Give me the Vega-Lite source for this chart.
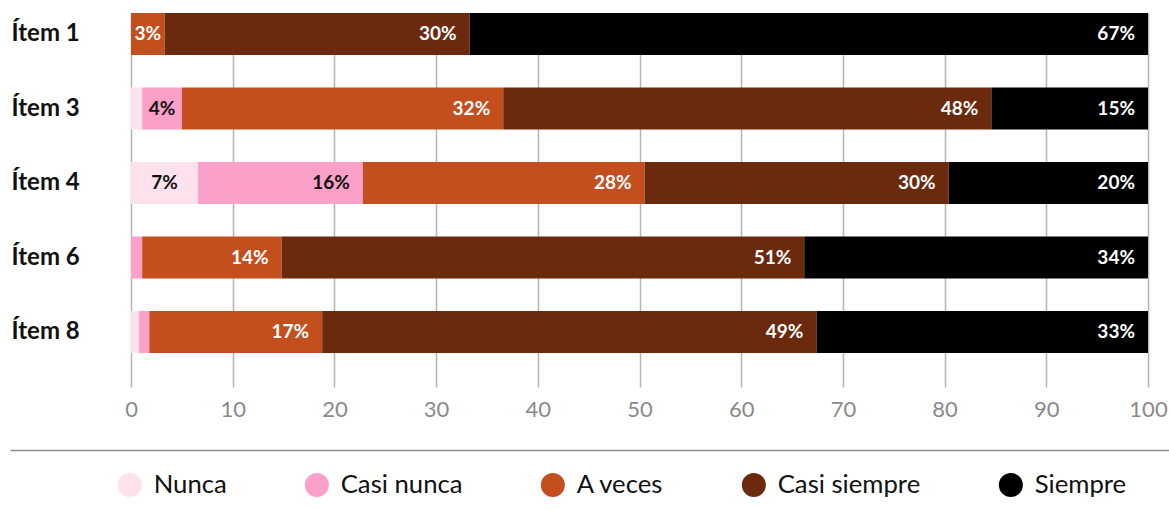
{
  "$schema": "https://vega.github.io/schema/vega-lite/v6.json",
  "autosize": {"type": "none"},
  "width": 1159,
  "height": 374,
  "padding": {"left": 10, "top": 13, "right": 0, "bottom": 123},
  "background": "white",
  "config": {
    "font": "Lato",
    "view": {"stroke": null},
    "legend": {
      "orient": "none",
      "legendX": 107,
      "legendY": 459,
      "direction": "horizontal",
      "title": null,
      "symbolType": "circle",
      "symbolSize": 576,
      "symbolStrokeWidth": 0,
      "symbolOpacity": 1,
      "labelFont": "Lato",
      "labelFontSize": 25.7,
      "labelColor": "#111111",
      "labelOffset": 11,
      "columnPadding": 77,
      "padding": 0,
      "labelLimit": 400
    }
  },
  "data": {
    "values": [
      {"item": "Ítem 1", "cat": "A veces", "v": 0.033},
      {"item": "Ítem 1", "cat": "Casi siempre", "v": 0.300},
      {"item": "Ítem 1", "cat": "Siempre", "v": 0.667},
      {"item": "Ítem 3", "cat": "Nunca", "v": 0.011},
      {"item": "Ítem 3", "cat": "Casi nunca", "v": 0.039},
      {"item": "Ítem 3", "cat": "A veces", "v": 0.316},
      {"item": "Ítem 3", "cat": "Casi siempre", "v": 0.480},
      {"item": "Ítem 3", "cat": "Siempre", "v": 0.154},
      {"item": "Ítem 4", "cat": "Nunca", "v": 0.066},
      {"item": "Ítem 4", "cat": "Casi nunca", "v": 0.162},
      {"item": "Ítem 4", "cat": "A veces", "v": 0.277},
      {"item": "Ítem 4", "cat": "Casi siempre", "v": 0.299},
      {"item": "Ítem 4", "cat": "Siempre", "v": 0.196},
      {"item": "Ítem 6", "cat": "Casi nunca", "v": 0.011},
      {"item": "Ítem 6", "cat": "A veces", "v": 0.137},
      {"item": "Ítem 6", "cat": "Casi siempre", "v": 0.514},
      {"item": "Ítem 6", "cat": "Siempre", "v": 0.338},
      {"item": "Ítem 8", "cat": "Nunca", "v": 0.008},
      {"item": "Ítem 8", "cat": "Casi nunca", "v": 0.010},
      {"item": "Ítem 8", "cat": "A veces", "v": 0.170},
      {"item": "Ítem 8", "cat": "Casi siempre", "v": 0.486},
      {"item": "Ítem 8", "cat": "Siempre", "v": 0.326}
    ]
  },
  "transform": [
    {"stack": "v", "groupby": ["item"], "as": ["v0", "v1"]}
  ],
  "resolve": {"axis": {"x": "independent"}},
  "layer": [
    {
      "mark": {"type": "bar"},
      "encoding": {
        "y": {
          "field": "item", "type": "nominal",
          "scale": {"domain": ["Ítem 1", "Ítem 3", "Ítem 4", "Ítem 6", "Ítem 8"], "paddingInner": 0.436, "paddingOuter": 0.228, "align": 0},
          "axis": {"title": null, "orient": "left", "labelAlign": "left", "labelPadding": -1, "ticks": false, "domain": false, "grid": false, "labelFont": "Lato", "labelFontWeight": "bold", "labelFontSize": 24, "labelColor": "#111111", "labelBaseline": "middle"}
        },
        "x": {
          "field": "v0", "type": "quantitative",
          "scale": {"domain": [-0.11898, 1.02065], "nice": false, "zero": false},
          "axis": {"title": null, "orient": "bottom", "values": [0, 0.1, 0.2, 0.3, 0.4, 0.5, 0.6, 0.7, 0.8, 0.9, 1], "labelExpr": "round(datum.value*100)", "domain": false, "ticks": false, "grid": true, "gridColor": "#b5b5b5", "gridWidth": 1.5, "labelFont": "Lato", "labelFontSize": 22, "labelColor": "#8a8a8a", "labelPadding": 12}
        },
        "x2": {"field": "v1"},
        "color": {
          "field": "cat", "type": "nominal",
          "scale": {"domain": ["Nunca", "Casi nunca", "A veces", "Casi siempre", "Siempre"], "range": ["#fde1ec", "#fba0c8", "#c34e1e", "#6b290d", "#000000"]}
        }
      }
    },
    {
      "transform": [{"filter": "datum.v >= 0.1"}],
      "mark": {"type": "text", "align": "right", "baseline": "middle", "dx": -13, "font": "Lato", "fontWeight": "bold", "fontSize": 19},
      "encoding": {
        "y": {"field": "item", "type": "nominal"},
        "x": {
          "field": "v1", "type": "quantitative",
          "axis": {"title": null, "orient": "bottom", "offset": 63, "labels": false, "ticks": false, "grid": false, "domain": true, "domainColor": "#8c8c8c", "domainWidth": 1.5}
        },
        "text": {"field": "v", "type": "quantitative", "format": ".0%"},
        "color": {"condition": {"test": "datum.cat === 'Nunca' || datum.cat === 'Casi nunca'", "value": "#111111"}, "value": "#ffffff"}
      }
    },
    {
      "transform": [
        {"filter": "datum.v >= 0.025 && datum.v < 0.1"},
        {"fold": ["v0", "v1"], "as": ["k", "p"]},
        {"aggregate": [{"op": "mean", "field": "p", "as": "mid"}], "groupby": ["item", "cat", "v"]}
      ],
      "mark": {"type": "text", "align": "center", "baseline": "middle", "font": "Lato", "fontWeight": "bold", "fontSize": 19},
      "encoding": {
        "y": {"field": "item", "type": "nominal"},
        "x": {"field": "mid", "type": "quantitative", "axis": null},
        "text": {"field": "v", "type": "quantitative", "format": ".0%"},
        "color": {"condition": {"test": "datum.cat === 'Nunca' || datum.cat === 'Casi nunca'", "value": "#111111"}, "value": "#ffffff"}
      }
    }
  ]
}
